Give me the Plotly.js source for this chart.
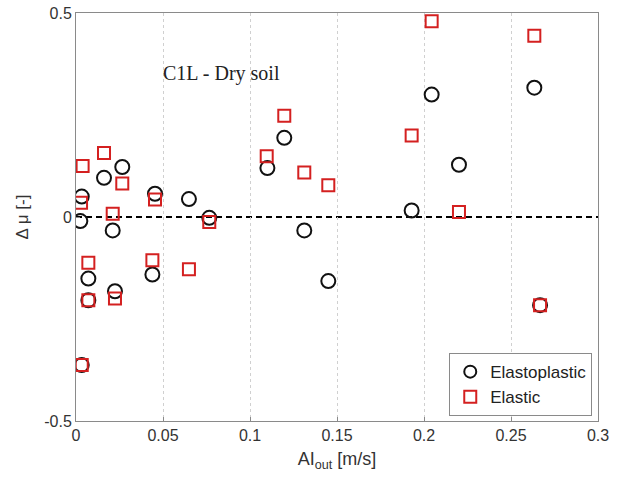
<!DOCTYPE html>
<html>
<head>
<meta charset="utf-8">
<script src="https://cdn.plot.ly/plotly-3.0.1.min.js"></script>
<style>html,body{margin:0;padding:0;background:#fff;}#chart{width:624px;height:477px;}</style>
</head>
<body>
<div id="chart"></div>
<script>
// Elastoplastic (circles)
const elastoplasticX = [0.0033, 0.0025, 0.0161, 0.0266, 0.0211, 0.0454, 0.0649, 0.0766, 0.110, 0.1197, 0.1312, 0.145, 0.1929, 0.2044, 0.2201, 0.2634, 0.2667, 0.0071, 0.0071, 0.0224, 0.0439, 0.0033];
const elastoplasticY = [0.050, -0.010, 0.096, 0.1225, -0.033, 0.057, 0.044, -0.002, 0.120, 0.194, -0.033, -0.157, 0.016, 0.300, 0.128, 0.317, -0.216, -0.151, -0.204, -0.182, -0.141, -0.363];
// Elastic (squares)
const elasticX = [0.0038, 0.0029, 0.0161, 0.0266, 0.0211, 0.0454, 0.0766, 0.1096, 0.1197, 0.1312, 0.145, 0.2044, 0.2634, 0.1929, 0.2201, 0.0071, 0.0071, 0.0224, 0.0439, 0.0649, 0.0033, 0.2667];
const elasticY = [0.125, 0.035, 0.157, 0.082, 0.008, 0.043, -0.012, 0.149, 0.248, 0.109, 0.078, 0.480, 0.444, 0.200, 0.012, -0.112, -0.204, -0.200, -0.106, -0.128, -0.363, -0.216];
const xTicks = [0, 0.05, 0.1, 0.15, 0.2, 0.25, 0.3];
const xTickLabels = ['0', '0.05', '0.1', '0.15', '0.2', '0.25', '0.3'];
const yTicks = [-0.5, 0, 0.5];
const yTickLabels = ['-0.5', '0', '0.5'];
const annotationText = 'C1L - Dry soil';

const traces = [
  {x: elastoplasticX, y: elastoplasticY, type: 'scatter', mode: 'markers', name: 'Elastoplastic',
   marker: {symbol: 'circle-open', size: 14, color: '#111', line: {width: 2, color: '#111'}}},
  {x: elasticX, y: elasticY, type: 'scatter', mode: 'markers', name: 'Elastic',
   marker: {symbol: 'square-open', size: 12, color: '#d42020', line: {width: 2, color: '#d42020'}}}
];

const axisCommon = {
  showline: true, mirror: true, linecolor: '#8a8a8a', linewidth: 1,
  ticks: 'inside', ticklen: 4, tickcolor: '#8a8a8a',
  zeroline: false,
  tickfont: {family: 'Liberation Sans, Arial, sans-serif', size: 16, color: '#333'}
};

const layout = {
  width: 624, height: 477,
  margin: {l: 76, r: 26, t: 13, b: 56},
  paper_bgcolor: '#fff', plot_bgcolor: '#fff',
  showlegend: true,
  xaxis: Object.assign({}, axisCommon, {
    range: [0, 0.3], tickvals: xTicks, ticktext: xTickLabels,
    showgrid: true, gridcolor: '#d0d0d0', griddash: 'dot', gridwidth: 1,
    title: {text: 'AI<sub>out</sub> [m/s]', font: {family: 'Liberation Sans, Arial, sans-serif', size: 18, color: '#333'}, standoff: 9}
  }),
  yaxis: Object.assign({}, axisCommon, {
    range: [-0.5, 0.5], tickvals: yTicks, ticktext: yTickLabels,
    showgrid: false,
    title: {text: 'Δ μ [-]', font: {family: 'Liberation Sans, Arial, sans-serif', size: 17, color: '#333'}, standoff: 11}
  }),
  legend: {
    x: 0.989, y: 0.012, xanchor: 'right', yanchor: 'bottom',
    bordercolor: '#8a8a8a', borderwidth: 1, bgcolor: '#fff',
    font: {family: 'Liberation Sans, Arial, sans-serif', size: 17, color: '#222'},
    tracegroupgap: 0, itemsizing: 'constant'
  },
  shapes: [{type: 'line', xref: 'paper', x0: 0, x1: 1, yref: 'y', y0: 0, y1: 0,
            line: {color: '#000', width: 2, dash: '6px,4px'}, layer: 'below'}],
  annotations: [{x: 0.0839, y: 0.351, xref: 'x', yref: 'y', text: annotationText, showarrow: false,
                 font: {family: 'Liberation Serif, Times New Roman, serif', size: 20, color: '#222'}}]
};

Plotly.newPlot('chart', traces, layout, {displayModeBar: false, staticPlot: true});
</script>
</body>
</html>
